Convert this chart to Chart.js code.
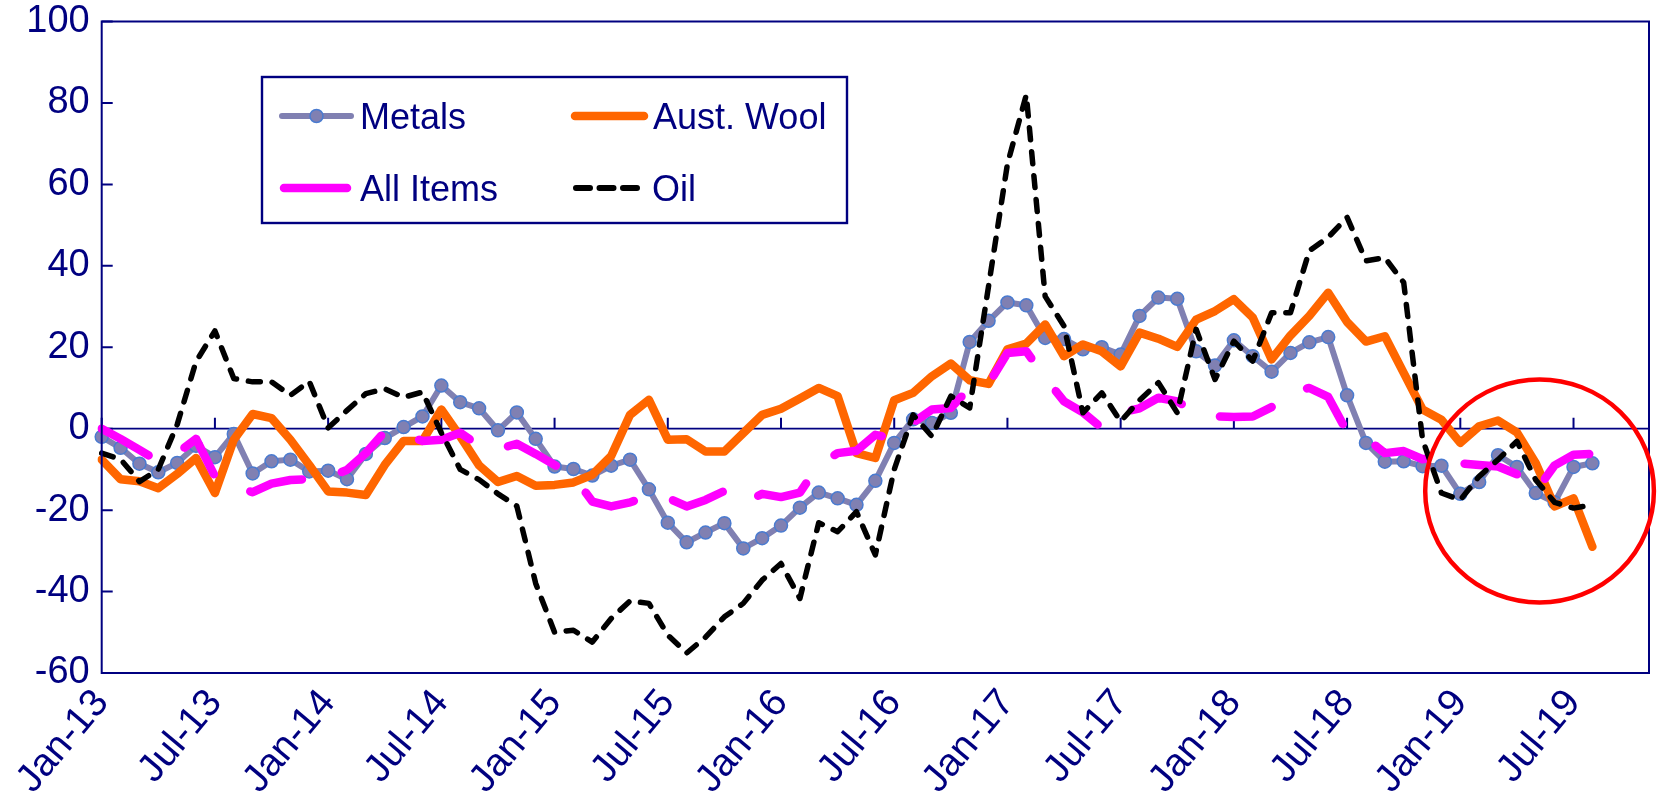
<!DOCTYPE html>
<html>
<head>
<meta charset="utf-8">
<style>
  html, body { margin: 0; padding: 0; background: #fff; }
  #wrap { width: 1657px; height: 801px; }
</style>
</head>
<body>
<div id="wrap"><canvas id="myChart" width="1657" height="801"></canvas></div>
<script src="https://cdn.jsdelivr.net/npm/chart.js@4/dist/chart.umd.min.js"></script>
<script>
// months Jan-13 .. Nov-19 (axis runs a little past the data)
const monthNames = ['Jan','Feb','Mar','Apr','May','Jun','Jul','Aug','Sep','Oct','Nov','Dec'];
const years = ['13','14','15','16','17','18','19'];
const categories = [];
years.forEach(y => monthNames.forEach(m => { if (categories.length < 83) categories.push(m + '-' + y); }));

const tickLabels = ['Jan-13','Jul-13','Jan-14','Jul-14','Jan-15','Jul-15','Jan-16','Jul-16',
                    'Jan-17','Jul-17','Jan-18','Jul-18','Jan-19','Jul-19'];

// annual % change
const metals = [-2.0, -4.7, -8.6, -10.7, -8.4, -4.2, -7.0, -1.3, -11.0, -8.0,
  -7.6, -10.5, -10.3, -12.4, -6.2, -2.3, 0.4, 3.0, 10.6, 6.5,
  5.0, -0.4, 4.0, -2.5, -9.3, -9.9, -11.5, -9.1, -7.6, -14.9,
  -23.1, -27.9, -25.5, -23.2, -29.4, -26.9, -23.8, -19.4, -15.7, -17.1,
  -18.7, -12.8, -3.5, 2.3, 1.4, 3.9, 21.3, 26.5, 31.0, 30.3,
  22.3, 22.0, 19.5, 20.0, 18.2, 27.7, 32.2, 31.9, 19.0, 15.5,
  21.7, 17.8, 14.0, 18.6, 21.2, 22.5, 8.2, -3.5, -8.1, -8.0,
  -9.2, -9.1, -16.0, -13.1, -6.5, -9.4, -15.8, -18.1, -9.4, -8.5];

const wool = [-7.6, -12.4, -12.9, -14.6, -11.1, -7.2, -15.8, -2.7, 3.6, 2.6,
  -2.7, -8.9, -15.4, -15.7, -16.3, -8.9, -3.0, -3.0, 4.7, -1.9,
  -9.0, -13.1, -11.6, -14.0, -13.8, -13.2, -11.3, -6.7, 3.4, 7.1,
  -2.7, -2.6, -5.6, -5.6, -1.1, 3.4, 4.9, 7.4, 10.0, 8.0,
  -6.0, -7.2, 7.0, 8.8, 12.9, 16.0, 11.9, 11.0, 19.5, 20.9,
  25.6, 17.8, 20.7, 19.0, 15.3, 23.6, 22.1, 20.1, 26.8, 28.9,
  31.8, 27.3, 17.0, 22.9, 27.7, 33.4, 26.2, 21.4, 22.7, 13.7,
  4.7, 2.2, -3.5, 0.6, 2.0, -0.9, -8.5, -19.1, -17.1, -29.0];

const allItems = [0, -2.5, -5.2, -8.0, -6.0, -2.5, -11.7, -14.0, -15.6, -13.5,
  -12.6, -12.4, -12.0, -10.1, -6.0, -0.7, -1.5, -3.0, -2.7, -1.0,
  -4.2, -5.0, -3.7, -6.2, -8.9, -11.6, -17.9, -19.1, -18.1, -16.3,
  -17.0, -19.1, -17.5, -15.3, -18.3, -16.0, -16.8, -15.7, -8.9, -6.0,
  -5.4, -1.5, -2.5, 1.5, 4.7, 5.1, 10.0, 11.0, 18.6, 19.0,
  12.5, 6.7, 4.0, 0.2, 3.9, 5.0, 7.6, 6.7, 3.9, 3.0,
  2.9, 3.0, 5.3, 9.0, 10.0, 7.8, -0.8, -2.3, -6.0, -5.5,
  -7.5, -6.8, -8.5, -8.9, -9.3, -11.2, -15.4, -9.0, -6.4, -6.2];

const oil = [-6, -7.5, -13, -10, 1, 16.5, 24, 12.3, 11.5, 11.5,
  8.2, 11.6, 0.2, 4.5, 8.6, 9.8, 7.7, 9, -1, -10,
  -12.5, -16, -19, -38, -50, -49.5, -52.4, -46.6, -42.3, -42.9,
  -50.7, -55.1, -51.2, -46.2, -42.9, -37.2, -33.1, -41.7, -23.1, -25.3,
  -20.4, -31, -10, 3.4, -1.9, 8.0, 5.1, 35, 65, 82,
  32.5, 25.2, 3.9, 8.8, 1.8, 7, 11.3, 3.9, 24.4, 12.1,
  21.5, 16.6, 28.5, 28.5, 43.7, 47, 51.9, 41.2, 42, 35.9,
  -2.7, -15.8, -17.5, -11.7, -7.6, -3.1, -12.6, -18.1, -19.5, -18.7];

const navy = '#000080';
const metalColor = '#8080B2';
const fontFamily = "'Liberation Sans', Arial, sans-serif";

// red ring drawn over the latest months (data units: centre month index / value, radii)
const ring = { month: 76.2, value: -15.3, rMonths: 6.06, rValue: 27.4 };

// axis frame, zero line and inside tick marks
const framePlugin = {
  id: 'frame',
  beforeDatasetsDraw(chart) {
    const { ctx, chartArea: a, scales: { x, y } } = chart;
    const y0 = y.getPixelForValue(0);
    ctx.save();
    ctx.strokeStyle = navy;
    ctx.lineWidth = 1.8;
    ctx.beginPath();
    ctx.moveTo(a.left, y0);
    ctx.lineTo(a.right, y0);
    ctx.stroke();
    ctx.lineWidth = 2;
    ctx.beginPath();
    categories.forEach((c, i) => {
      if (!tickLabels.includes(c)) return;
      const px = x.getPixelForValue(i);
      ctx.moveTo(px, y0);
      ctx.lineTo(px, y0 - 11);
    });
    y.ticks.forEach(t => {
      const py = y.getPixelForValue(t.value);
      ctx.moveTo(a.left, py);
      ctx.lineTo(a.left + 11, py);
    });
    ctx.stroke();
    ctx.restore();
  },
  afterDatasetsDraw(chart) {
    const { ctx, chartArea: a } = chart;
    ctx.save();
    ctx.strokeStyle = navy;
    ctx.lineWidth = 2;
    ctx.strokeRect(a.left, a.top, a.right - a.left, a.bottom - a.top);
    ctx.restore();
  }
};

// Excel style legend box inside the plot
const legendPlugin = {
  id: 'boxLegend',
  afterDraw(chart) {
    const ctx = chart.ctx;
    ctx.save();
    ctx.fillStyle = '#fff';
    ctx.fillRect(262, 77, 585, 146);
    ctx.strokeStyle = navy;
    ctx.lineWidth = 2.4;
    ctx.strokeRect(262, 77, 585, 146);

    const fs = 36;
    ctx.font = fs + 'px ' + fontFamily;
    ctx.textBaseline = 'alphabetic';
    const rows = [116, 188];
    ctx.lineCap = 'round';

    // Metals
    ctx.strokeStyle = metalColor;
    ctx.lineWidth = 6;
    ctx.beginPath(); ctx.moveTo(282, rows[0]); ctx.lineTo(351, rows[0]); ctx.stroke();
    ctx.beginPath(); ctx.arc(316.5, rows[0], 6.5, 0, Math.PI * 2);
    ctx.fillStyle = metalColor; ctx.fill();
    ctx.lineWidth = 1.5; ctx.strokeStyle = '#4A7BD0'; ctx.stroke();
    // Aust. Wool
    ctx.strokeStyle = '#FF6600'; ctx.lineWidth = 8.5;
    ctx.beginPath(); ctx.moveTo(575, rows[0]); ctx.lineTo(644, rows[0]); ctx.stroke();
    // All Items
    ctx.strokeStyle = '#FF00FF'; ctx.lineWidth = 8.5;
    ctx.beginPath(); ctx.moveTo(284, rows[1]); ctx.lineTo(347, rows[1]); ctx.stroke();
    // Oil
    ctx.strokeStyle = '#000'; ctx.lineWidth = 6;
    ctx.setLineDash([14, 9.5]);
    ctx.beginPath(); ctx.moveTo(576, rows[1]); ctx.lineTo(637, rows[1]); ctx.stroke();
    ctx.setLineDash([]);

    ctx.fillStyle = navy;
    const base = fs * 0.358;
    ctx.fillText('Metals', 360, rows[0] + base);
    ctx.fillText('Aust. Wool', 653, rows[0] + base);
    ctx.fillText('All Items', 360, rows[1] + base);
    ctx.fillText('Oil', 652, rows[1] + base);
    ctx.restore();
  }
};

const ringPlugin = {
  id: 'ring',
  afterDraw(chart) {
    const { ctx, scales: { x, y } } = chart;
    const cx = x.getPixelForValue(ring.month);
    const cy = y.getPixelForValue(ring.value);
    const rx = x.getPixelForValue(ring.month + ring.rMonths) - cx;
    const ry = cy - y.getPixelForValue(ring.value + ring.rValue);
    ctx.save();
    ctx.strokeStyle = '#FF0000';
    ctx.lineWidth = 4.5;
    ctx.beginPath();
    ctx.ellipse(cx, cy, rx, ry, 0, 0, Math.PI * 2);
    ctx.stroke();
    ctx.restore();
  }
};

var chartArea = document.getElementById('myChart').getContext('2d');

var myChart = new Chart(chartArea, {
  type: 'line',
  data: {
    labels: categories,
    datasets: [
      {
        label: 'Metals',
        data: metals,
        borderColor: metalColor,
        borderWidth: 6,
        borderJoinStyle: 'round',
        pointRadius: 6.5,
        pointBackgroundColor: metalColor,
        pointBorderColor: '#4A7BD0',
        pointBorderWidth: 1.5,
        order: 4
      },
      {
        label: 'Aust. Wool',
        data: wool,
        borderColor: '#FF6600',
        borderWidth: 8.5,
        borderJoinStyle: 'round',
        borderCapStyle: 'round',
        pointRadius: 0,
        order: 3
      },
      {
        label: 'All Items',
        data: allItems,
        borderColor: '#FF00FF',
        borderWidth: 8.5,
        borderDash: [54, 41],
        borderJoinStyle: 'round',
        borderCapStyle: 'round',
        pointRadius: 0,
        order: 2
      },
      {
        label: 'Oil',
        data: oil,
        borderColor: '#000000',
        borderWidth: 5.5,
        borderDash: [12, 12],
        borderJoinStyle: 'round',
        borderCapStyle: 'round',
        pointRadius: 0,
        order: 1
      }
    ]
  },
  options: {
    responsive: false,
    animation: false,
    devicePixelRatio: 1,
    layout: { padding: { top: 21.5, right: 5.4, left: 0, bottom: 0 } },
    plugins: { legend: { display: false }, tooltip: { enabled: false } },
    scales: {
      x: {
        grid: { display: false, drawTicks: false },
        border: { display: false },
        afterFit: s => { s.height = 128; s.paddingLeft = 0; s.paddingRight = 0; },
        ticks: {
          autoSkip: false,
          minRotation: 50,
          maxRotation: 50,
          padding: 8,
          color: navy,
          font: { family: fontFamily, size: 39 },
          callback: function (v, i) {
            const c = categories[i];
            return tickLabels.includes(c) ? c : null;
          }
        }
      },
      y: {
        min: -60,
        max: 100,
        grid: { display: false, drawTicks: false },
        border: { display: false },
        afterFit: s => { s.width = 101.7; s.paddingTop = 0; s.paddingBottom = 0; },
        ticks: {
          stepSize: 20,
          padding: 12,
          color: navy,
          font: { family: fontFamily, size: 38 }
        }
      }
    }
  },
  plugins: [framePlugin, legendPlugin, ringPlugin]
});
</script>
</body>
</html>
